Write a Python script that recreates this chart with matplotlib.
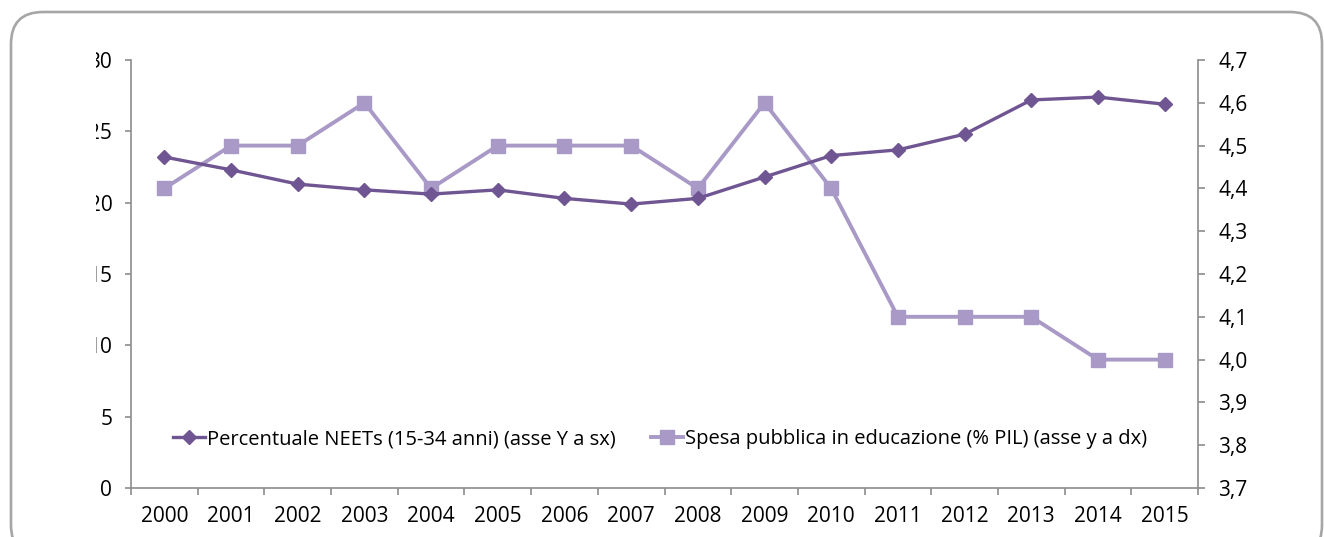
import matplotlib
matplotlib.use("Agg")
import matplotlib.pyplot as plt
from matplotlib.patches import FancyBboxPatch
from matplotlib.transforms import Bbox

years = ["2000", "2001", "2002", "2003", "2004", "2005", "2006", "2007",
         "2008", "2009", "2010", "2011", "2012", "2013", "2014", "2015"]
neet = [23.2, 22.3, 21.3, 20.9, 20.6, 20.9, 20.3, 19.9,
        20.3, 21.8, 23.3, 23.7, 24.8, 27.2, 27.4, 26.9]
spesa = [4.4, 4.5, 4.5, 4.6, 4.4, 4.5, 4.5, 4.5,
         4.4, 4.6, 4.4, 4.1, 4.1, 4.1, 4.0, 4.0]
left_ticks = [0, 5, 10, 15, 20, 25, 30]
right_ticks = [3.7, 3.8, 3.9, 4.0, 4.1, 4.2, 4.3, 4.4, 4.5, 4.6, 4.7]

plt.rcParams["font.family"] = ["Open Sans", "DejaVu Sans"]
dark = "#6f5592"
light = "#a899c6"
grey = "#8c8c8c"
tick_fs = 15
leg_fs = 14.5

fig = plt.figure(figsize=(13.24, 5.37), dpi=100)
# rounded frame around the chart (inches)
frame = FancyBboxPatch((0.11, -0.2), 13.11, 5.37 - 0.12 + 0.2,
                       boxstyle="round,pad=0,rounding_size=0.32",
                       transform=fig.dpi_scale_trans, fill=False,
                       edgecolor="#a6a6a6", linewidth=1.9)
fig.patches.append(frame)

ax = fig.add_axes([131 / 1324, 1 - 488 / 537, (1198 - 131) / 1324, (488 - 60) / 537])
ax.patch.set_alpha(0)
x = list(range(len(years)))

ax2 = ax.twinx()
ax2.plot(x, spesa, color=light, linewidth=2.8, marker="s", markersize=10,
         label="Spesa pubblica in educazione (% PIL) (asse y a dx)")
l1, = ax.plot(x, neet, color=dark, linewidth=2.4, marker="D", markersize=7,
              label="Percentuale NEETs (15-34 anni) (asse Y a sx)")
ax.set_zorder(ax2.get_zorder() + 1)

ax.set_xlim(-0.5, len(years) - 0.5)
ax.set_ylim(0, 30)
ax2.set_ylim(3.7, 4.7)
ax.set_yticks(left_ticks)
ax.set_yticklabels([str(v) for v in left_ticks])
ax2.set_yticks(right_ticks)
ax2.set_yticklabels([f"{v:.1f}".replace(".", ",") for v in right_ticks])

ax.set_xticks(x)
ax.set_xticklabels(years)
ax.set_xticks([i - 0.5 for i in range(len(years) + 1)], minor=True)
ax.tick_params(axis="x", which="major", length=0, pad=13, labelsize=tick_fs)
ax.tick_params(axis="x", which="minor", length=5, color=grey, width=1.2, direction="out")
ax.tick_params(axis="y", length=4.5, color=grey, width=1.2, pad=9, labelsize=tick_fs)
ax2.tick_params(axis="y", length=5, color=grey, width=1.2, pad=9.5, labelsize=tick_fs)

for a in (ax, ax2):
    for s in a.spines.values():
        s.set_visible(False)
ax.spines["left"].set_visible(True)
ax.spines["bottom"].set_visible(True)
ax2.spines["right"].set_visible(True)
for s in (ax.spines["left"], ax.spines["bottom"], ax2.spines["right"]):
    s.set_color(grey)
    s.set_linewidth(1.2)

h2, lab2 = ax2.get_legend_handles_labels()
leg = ax.legend([l1] + h2, [l1.get_label()] + lab2, ncol=2, frameon=False,
                loc="lower left", bbox_to_anchor=(0.039, 0.09), fontsize=leg_fs,
                handlelength=1.6, handletextpad=0.1, columnspacing=1.75,
                borderaxespad=0, borderpad=0)

# left tick labels are cut off by the chart frame
fig.canvas.draw()
clip = Bbox([[96, 0], [1324, 537]])
for lbl in ax.get_yticklabels():
    lbl.set_clip_box(clip)
    lbl.set_clip_on(True)

fig.savefig("out.png", dpi=100)
